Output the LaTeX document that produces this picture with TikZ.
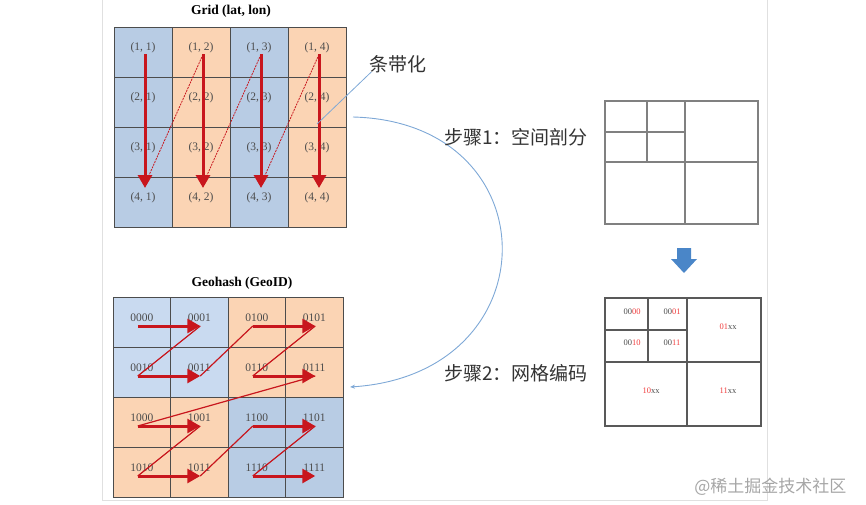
\documentclass[tikz,border=0pt]{standalone}
\usepackage{fontspec}
\setmainfont{Liberation Serif}
\newfontfamily\cjk{Noto Sans CJK SC}
\usepackage{xcolor}
\usetikzlibrary{arrows.meta,positioning,calc}

\definecolor{cellblue}{HTML}{B8CCE4}
\definecolor{cellpale}{HTML}{C9DAF0}
\definecolor{cellorange}{HTML}{FBD4B4}
\definecolor{zred}{HTML}{C8161D}
\definecolor{codered}{HTML}{F03C3C}
\definecolor{leadblue}{HTML}{7EA8D6}
\definecolor{fatblue}{HTML}{4A86C8}

\begin{document}
\begin{tikzpicture}[x=1pt,y=-1pt,>=Stealth,
  cell/.style={draw=black!70,line width=0.9pt,minimum width=58pt,minimum height=50pt,inner sep=0pt,outer sep=0pt},
  lab/.style={text=black!70,font=\fontsize{11.5}{12}\selectfont,inner sep=1pt},
  title/.style={font=\fontsize{13.5}{15}\selectfont\bfseries},
  cjklab/.style={text=black!80,font=\cjk\fontsize{19}{21}\selectfont,inner sep=1pt},
  zarrow/.style={zred,line width=3pt,-{Triangle[width=14pt,length=13pt]}},
  zlink/.style={zred,line width=1.2pt},
  boxline/.style={draw=black!50,line width=1.3pt},
  code/.style={text=black!70,font=\fontsize{8.5}{9}\selectfont,inner sep=0pt}]
  \useasboundingbox (0,0) rectangle (866,505);
  % page frame
  \draw[black!12,line width=1pt] (102,0) -- (102,500) -- (767,500) -- (767,0);

  % ---- stripes: Grid (lat, lon)
  \node[title] (gridtitle) at (231,11) {Grid (lat, lon)};
  \foreach \c/\fc in {1/cellblue,2/cellorange,3/cellblue,4/cellorange}
    \foreach \r in {1,...,4}{
      \node[cell,fill=\fc] (t\r\c) at ({85+58*\c},{2+50*\r}) {};
      \node[lab] (tl\r\c) at ([yshift=4pt]t\r\c.center) {(\r, \c)};
    }
  \foreach \c in {1,...,4}
    \draw[zarrow] ([xshift=2pt]tl1\c.south) -- ([xshift=2pt,yshift=-11pt]t4\c.north);
  \foreach \c/\d in {1/2,2/3,3/4}
    \draw[zlink,line width=0.8pt,dash pattern=on 2pt off 1pt]
      ([xshift=3pt,yshift=-5pt]t4\c.north) -- ([xshift=2pt]tl1\d.south);

  \node[cjklab] (strip) at (398,64) {条带化};
  \draw[leadblue,line width=0.8pt] ([yshift=3pt]t24.south) -- ([xshift=3pt,yshift=2pt]strip.south west);

  % ---- z-order: Geohash (GeoID)
  \node[title] (geotitle) at (242,283) {Geohash (GeoID)};
  \foreach \r/\c/\code/\fc in {1/1/0000/cellpale,1/2/0001/cellpale,1/3/0100/cellorange,1/4/0101/cellorange,
      2/1/0010/cellpale,2/2/0011/cellpale,2/3/0110/cellorange,2/4/0111/cellorange,
      3/1/1000/cellorange,3/2/1001/cellorange,3/3/1100/cellblue,3/4/1101/cellblue,
      4/1/1010/cellorange,4/2/1011/cellorange,4/3/1110/cellblue,4/4/1111/cellblue}{
    \node[cell,minimum width=57.5pt,fill=\fc] (b\r\c) at ({84.25+57.5*\c},{272+50*\r}) {};
    \node[lab] (bl\r\c) at ([yshift=4pt]b\r\c.center) {\code};
  }
  \foreach \r in {1,...,4}
    \foreach \h/\a/\b in {1/1/2,2/3/4}{
      \coordinate (s\r\h) at ([xshift=-4pt,yshift=-4pt]b\r\a.center);
      \coordinate (e\r\h) at ([xshift=1pt,yshift=-4pt]b\r\b.center);
      \draw[zarrow] (s\r\h) -- (e\r\h);
    }
  \foreach \p/\q in {11/21,21/12,12/22,22/31,31/41,41/32,32/42}
    \draw[zlink] (e\p) -- (s\q);

  % ---- steps
  \coordinate (arcfrom) at ([xshift=7pt,yshift=10pt]t34.north east);
  \coordinate (arcto) at ([xshift=7pt,yshift=-15pt]b24.east);
  \draw[leadblue,line width=0.9pt,-{Stealth[length=5pt,width=4pt]}]
    (arcfrom) .. controls (552,122) and (552,374) .. (arcto);
  \node[cjklab,anchor=west] (step1) at (443,137) {步骤1：空间剖分};
  \node[cjklab,anchor=west] (step2) at (443,373) {步骤2：网格编码};

  % ---- space split
  \draw[boxline] (605,101) rectangle (758,224);
  \draw[boxline] (685,101) -- (685,224) (605,162) -- (758,162)
    (647,101) -- (647,162) (605,132) -- (685,132);

  \fill[fatblue] (677,248) -- (691,248) -- (691,259) -- (697,259) -- (684,273)
    -- (671,259) -- (677,259) -- cycle;

  % ---- grid codes
  \draw[boxline,draw=black!65,line width=1.1pt] (605,298) rectangle (761,426);
  \draw[boxline,draw=black!65,line width=1.1pt] (687,298) -- (687,426) (605,362) -- (761,362)
    (648,298) -- (648,362) (605,330) -- (687,330);
  \node[code] (c00) at (632,312) {00\textcolor{codered}{00}};
  \node[code] (c01) at (672,312) {00\textcolor{codered}{01}};
  \node[code] (c10) at (632,343) {00\textcolor{codered}{10}};
  \node[code] (c11) at (672,343) {00\textcolor{codered}{11}};
  \node[code] (q01) at (728,327) {\textcolor{codered}{01}xx};
  \node[code] (q10) at (651,391) {\textcolor{codered}{10}xx};
  \node[code] (q11) at (728,391) {\textcolor{codered}{11}xx};

  \node[text=black!35,font=\cjk\fontsize{17}{19}\selectfont,anchor=east] (mark) at (850,487) {@稀土掘金技术社区};
\end{tikzpicture}
\end{document}
